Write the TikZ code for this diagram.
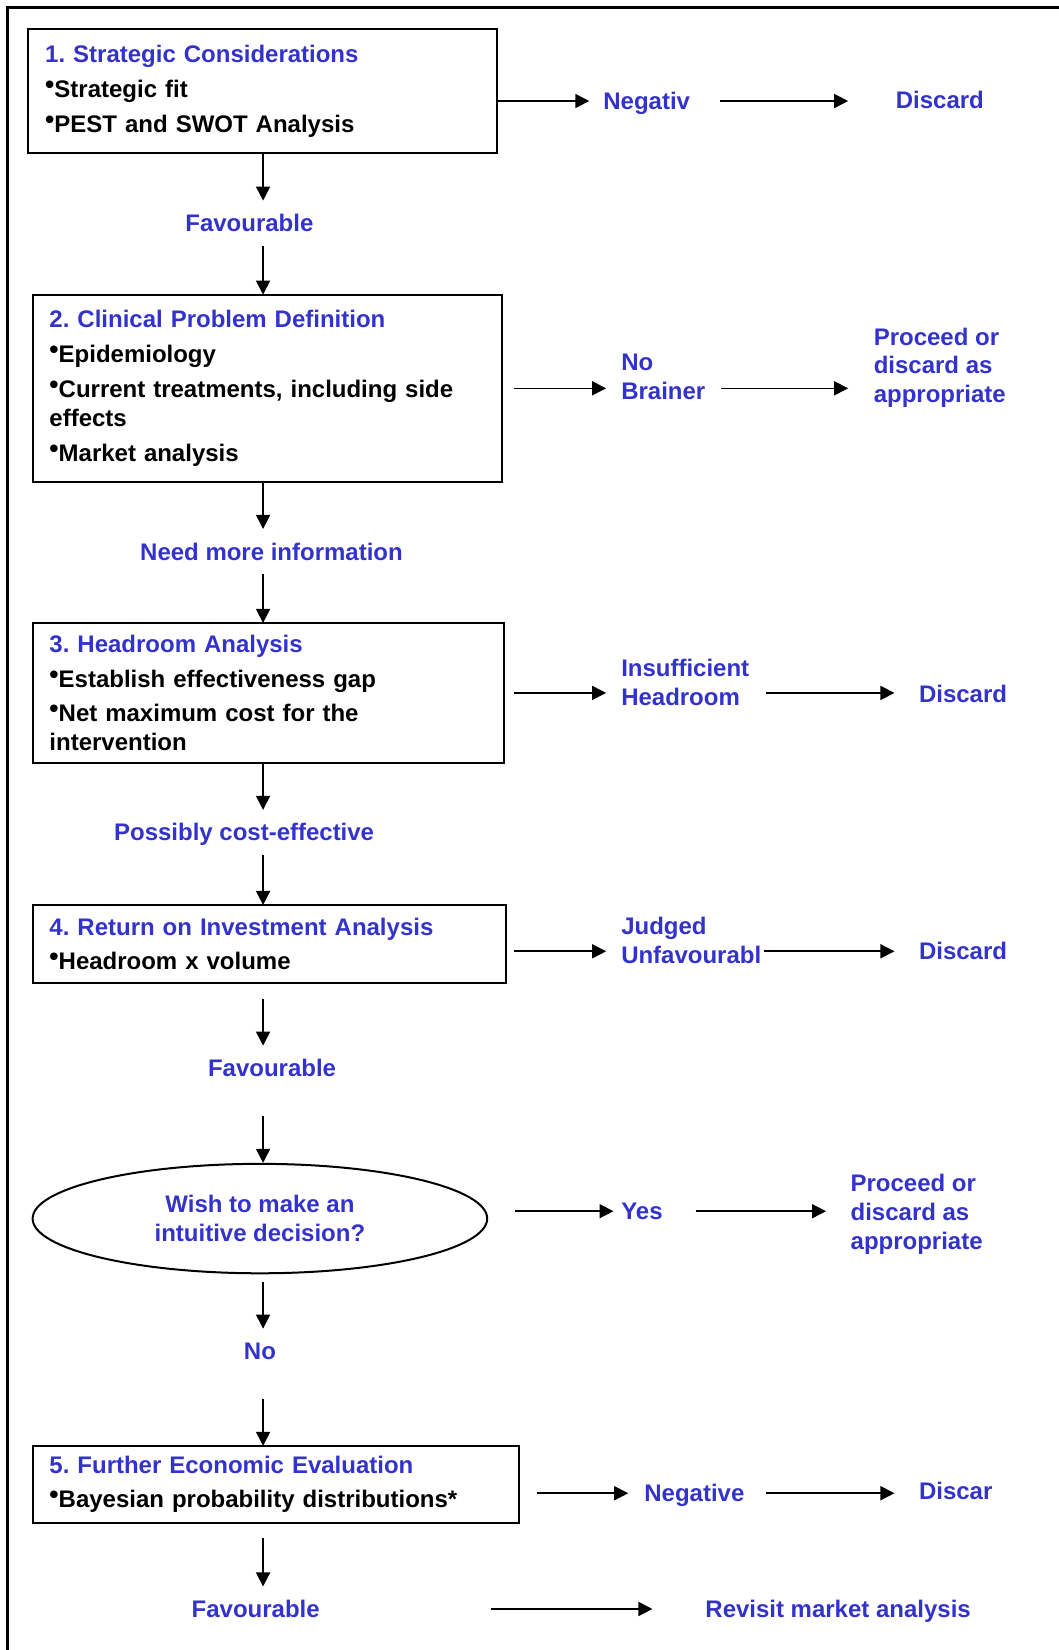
\documentclass[tikz,border=0pt]{standalone}
\usepackage{fontspec}
\setmainfont{Liberation Sans}
\usepackage{graphicx}
\usepackage{xcolor}
\usetikzlibrary{arrows.meta, calc, shapes.geometric}
\definecolor{flowblue}{RGB}{51,51,204}
\newlength{\px}
\setlength{\px}{0.5264pt}
\newcommand{\itm}{\raisebox{2pt}{\scalebox{1.1}{\textbullet}}}
\frenchspacing

\begin{document}
\begin{tikzpicture}[x=0.5264pt, y=-0.5264pt, font=\fontsize{12}{14.4}\selectfont\bfseries,
    stage/.style={draw, line width=1pt, anchor=north west, outer sep=0pt,
      inner xsep=16\px, inner ysep=0pt, align=left},
    flow/.style={text=flowblue, inner xsep=0pt, inner ysep=6.75pt,
      text height=8.6pt, text depth=0pt},
    sidelab/.style={text=flowblue, inner sep=0pt, anchor=west,
      text height=8.6pt, text depth=0pt},
    sidelabs/.style={text=flowblue, inner sep=0pt, anchor=west, align=left},
    arr/.style={-{Triangle[length=7pt,width=7pt]}, line width=0.8pt}]
  \useasboundingbox (0,0) rectangle (1006,1568);
  % Frame
  \draw[line width=1.2pt] (7,1575) -- (7,7) -- (1012,7);
  % Stages
  \node[stage, minimum width=445\px, minimum height=117\px, text width=413\px] (s1) at (27,28)
    {\textcolor{flowblue}{1. Strategic Considerations}\\[3pt]
     \itm Strategic fit\\[3pt]
     \itm PEST and SWOT Analysis};
  \node[stage, minimum width=446\px, minimum height=178\px, text width=414\px] (s2) at (31,280)
    {\textcolor{flowblue}{2. Clinical Problem Definition}\\[3pt]
     \itm Epidemiology\\[3pt]
     \itm Current treatments, including side\\ effects\\[3pt]
     \itm Market analysis};
  \node[stage, minimum width=448\px, minimum height=133\px, text width=416\px] (s3) at (31,592)
    {\textcolor{flowblue}{3. Headroom Analysis}\\[3pt]
     \itm Establish effectiveness gap\\[3pt]
     \itm Net maximum cost for the\\ intervention};
  \node[stage, minimum width=450\px, minimum height=74\px, text width=418\px] (s4) at (31,860)
    {\textcolor{flowblue}{4. Return on Investment Analysis}\\[3pt]
     \itm Headroom x volume};
  \node[stage, minimum width=462\px, minimum height=73\px, text width=430\px] (s5) at (31,1374)
    {\textcolor{flowblue}{5. Further Economic Evaluation}\\[3pt]
     \itm Bayesian probability distributions*};
  % Decision
  \node[ellipse, draw, line width=1pt, minimum width=432\px, minimum height=104\px,
    inner sep=0pt, text=flowblue, align=center] (dec) at (247,1158)
    {Wish to make an\\intuitive decision?};
  % Outcomes down the middle
  \node[flow] (fav1) at (237,212) {Favourable};
  \node[flow] (need) at (258,524) {Need more information};
  \node[flow] (poss) at (232,791) {Possibly cost-effective};
  \node[flow] (fav4) at (258.5,1015) {Favourable};
  \node[flow] (no) at (247,1284) {No};
  \node[flow] (fav5) at (243,1529) {Favourable};
  % Outcomes to the right
  \node[sidelab] (neg1) at (573,96) {Negativ};
  \node[sidelab] (dis1) at (851,95) {Discard};
  \node[sidelabs] (nb) at (590,358.5) {No\\Brainer};
  \node[sidelabs] (pr2) at (830,349.5) {Proceed or\\discard as\\appropriate};
  \node[sidelabs] (ins) at (590,648.5) {Insufficient\\Headroom};
  \node[sidelab] (dis3) at (873,659) {Discard};
  \node[sidelabs] (jud) at (590,893.5) {Judged\\Unfavourabl};
  \node[sidelab] (dis4) at (873,904) {Discard};
  \node[sidelab] (yes) at (590,1151) {Yes};
  \node[sidelabs] (pr6) at (808,1154) {Proceed or\\discard as\\appropriate};
  \node[sidelab] (neg5) at (612,1419) {Negative};
  \node[sidelab] (dis5) at (873,1417) {Discar};
  \node[sidelab] (rev) at (670,1529) {Revisit market analysis};
  % Main line
  \coordinate (spine) at (250,0);
  \draw[arr] (spine |- s1.south) -- (spine |- fav1.north);
  \draw[arr] (spine |- fav1.south) -- (spine |- s2.north);
  \draw[arr] (spine |- s2.south) -- (spine |- need.north);
  \draw[arr] (spine |- need.south) -- (spine |- s3.north);
  \draw[arr] (spine |- s3.south) -- (spine |- poss.north);
  \draw[arr] (spine |- poss.south) -- (spine |- s4.north);
  \draw[arr, shorten <=15\px] (spine |- s4.south) -- (spine |- fav4.north);
  \draw[arr, shorten <=24\px] (spine |- fav4.south) -- (spine |- dec.north);
  \draw[arr, shorten <=7\px] (spine |- dec.south) -- (spine |- no.north);
  \draw[arr, shorten <=24\px] (spine |- no.south) -- (spine |- s5.north);
  \draw[arr, shorten <=15\px] (spine |- s5.south) -- (spine |- fav5.north);
  % Side branches
  \draw[arr, shorten >=13\px] (s1.east |- neg1.west) -- (neg1.west);
  \draw[arr, shorten <=28\px, shorten >=45\px] (neg1.east) -- (neg1.east -| dis1.west);
  \draw[arr, shorten <=11\px, shorten >=14\px] (s2.east) -- (s2.east -| nb.west);
  \draw[arr, shorten <=15\px, shorten >=24\px] (s2.east -| nb.east) -- (s2.east -| pr2.west);
  \draw[arr, shorten <=9\px, shorten >=14\px] (s3.east) -- (s3.east -| ins.west);
  \draw[arr, shorten <=16\px, shorten >=23\px] (s3.east -| ins.east) -- (s3.east -| dis3.west);
  \draw[arr, shorten <=7\px, shorten >=14\px] (s4.east |- dis4.west) -- (jud.west |- dis4.west);
  \draw[arr, shorten <=2\px, shorten >=23\px] (jud.east |- dis4.west) -- (dis4.west);
  \draw[arr, shorten <=25\px, shorten >=7\px] (dec.east |- yes.west) -- (yes.west);
  \draw[arr, shorten <=31\px, shorten >=23\px] (yes.east) -- (yes.east -| pr6.west);
  \draw[arr, shorten <=17\px, shorten >=15\px] (s5.east |- neg5.west) -- (neg5.west);
  \draw[arr, shorten <=20\px, shorten >=23\px] (neg5.east) -- (neg5.east -| dis5.west);
  \draw[arr, shorten <=162\px, shorten >=50\px] (fav5.east) -- (fav5.east -| rev.west);
\end{tikzpicture}
\end{document}
